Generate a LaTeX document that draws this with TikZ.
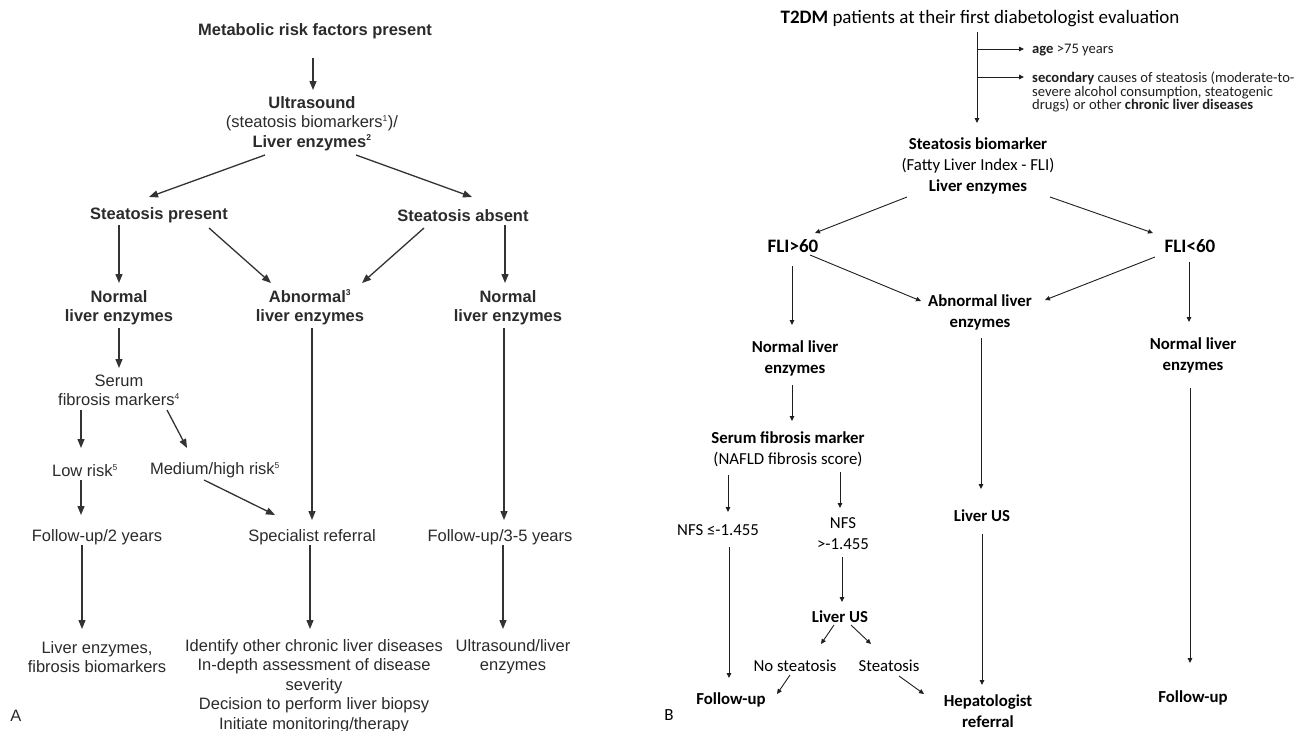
\documentclass[tikz,border=0pt]{standalone}
\usepackage{fontspec}
\setmainfont{Liberation Sans}
\newfontfamily\calfont{Carlito}
\usetikzlibrary{arrows.meta,calc}
\definecolor{ltext}{HTML}{2B2B2B}
\definecolor{lline}{HTML}{333333}
\definecolor{rline}{HTML}{1E1E1E}
\newcommand\supmark[1]{\textsuperscript{\fontsize{8.5}{8.5}\selectfont #1}}

\tikzset{
  lt/.style={inner sep=0pt, align=center, text=ltext,
    font=\fontsize{16.5}{19.4}\selectfont},
  ltb/.style={lt, font=\fontsize{16.5}{19.4}\selectfont\bfseries},
  rt/.style={inner sep=0pt, align=center, text=black,
    font=\calfont\fontsize{16.8}{21}\selectfont},
  rtb/.style={rt, font=\calfont\fontsize{16.8}{21}\selectfont\bfseries},
  rbig/.style={rt, font=\calfont\fontsize{19}{23}\selectfont},
  rsmall/.style={inner sep=0pt, align=left, text=black!88, anchor=west,
    font=\calfont\fontsize{14.6}{13.6}\selectfont},
  larr/.style={draw=lline, line width=1.3pt, -{Triangle[length=9pt,width=7pt]}},
  rarr/.style={draw=rline, line width=0.9pt, -{Triangle[length=5pt,width=4.5pt]}}
}

\begin{document}
\begin{tikzpicture}[x=1pt,y=-1pt]
\useasboundingbox (0,0) rectangle (1299,731);
\fill[white] (0,0) rectangle (1299,731);

% ---------------- panel A ----------------
\node[ltb] (L1) at (315,31.5) {Metabolic risk factors present};
\node[lt]  (L2) at (312,123.5) {\textbf{Ultrasound}\\(steatosis biomarkers\supmark{1})/\\\textbf{Liver enzymes\supmark{2}}};
\node[ltb] (L3) at (159,215.5) {Steatosis present};
\node[ltb] (L4) at (463,215.5) {Steatosis absent};
\node[ltb] (L5) at (119,307.5) {Normal\\liver enzymes};
\node[ltb] (L6) at (310,307.5) {Abnormal\supmark{3}\\liver enzymes};
\node[ltb] (L7) at (508,307.5) {Normal\\liver enzymes};
\node[lt]  (L8) at (119,390.5) {Serum\\fibrosis markers\supmark{4}};
\node[lt]  (L9) at (85,470.5) {Low risk\supmark{5}};
\node[lt]  (L10) at (215,470.5) {Medium/high risk\supmark{5}};
\node[lt]  (L11) at (97,537.5) {Follow-up/2 years};
\node[lt]  (L12) at (312,537.5) {Specialist referral};
\node[lt]  (L13) at (500,537.5) {Follow-up/3-5 years};
\node[lt]  (L14) at (97,657) {Liver enzymes,\\fibrosis biomarkers};
\node[lt]  (L15) at (314,686) {Identify other chronic liver diseases\\In-depth assessment of disease\\severity\\Decision to perform liver biopsy\\Initiate monitoring/therapy};
\node[lt]  (L16) at (513,657) {Ultrasound/liver\\enzymes};
\node[lt]  (LA) at (16,715.5) {A};

\draw[larr] ($(L1)+(-2,26.5)$) -- ($(L2)+(1,-33.5)$);
\draw[larr] ($(L2)+(-47,31.5)$) -- ($(L3)+(-10,-18.5)$);
\draw[larr] ($(L2)+(44,31.5)$) -- ($(L4)+(9,-18.5)$);
\draw[larr] ($(L3)+(-40,9.5)$) -- ($(L5)+(0,-24.5)$);
\draw[larr] ($(L3)+(50,12.5)$) -- ($(L6)+(-39,-24.5)$);
\draw[larr] ($(L4)+(-39,12.5)$) -- ($(L6)+(52,-24.5)$);
\draw[larr] ($(L4)+(42,9.5)$) -- ($(L7)+(-3,-24.5)$);
\draw[larr] ($(L5)+(0,20.5)$) -- ($(L8)+(0,-22.5)$);
\draw[larr] ($(L6)+(2,20.5)$) -- ($(L12)+(0,-17.5)$);
\draw[larr] ($(L7)+(-4,20.5)$) -- ($(L13)+(4,-17.5)$);
\draw[larr] ($(L8)+(-38,19.5)$) -- ($(L9)+(-4,-22.5)$);
\draw[larr] ($(L8)+(48,19.5)$) -- ($(L10)+(-28,-22.5)$);
\draw[larr] ($(L9)+(-4,9.5)$) -- ($(L11)+(-16,-22.5)$);
\draw[larr] ($(L10)+(-11,9.5)$) -- ($(L12)+(-37,-22.5)$);
\draw[larr] ($(L11)+(-15,7.5)$) -- ($(L14)+(-15,-28)$);
\draw[larr] ($(L12)+(-2,7.5)$) -- ($(L15)+(-4,-57)$);
\draw[larr] ($(L13)+(3,7.5)$) -- ($(L16)+(-10,-28)$);

% ---------------- panel B ----------------
\node[rbig] (R1) at (980,18.5) {\textbf{T2DM} patients at their first diabetologist evaluation};
\node[rsmall] (Rage) at (1032,50.5) {\textbf{age} >75 years};
\node[rsmall] (Rsec) at (1032,92) {\textbf{secondary} causes of steatosis (moderate-to-\\severe alcohol consumption, steatogenic\\drugs) or other \textbf{chronic liver diseases}};
\node[rt]  (R2) at (978,166) {\textbf{Steatosis biomarker}\\(Fatty Liver Index - FLI)\\\textbf{Liver enzymes}};
\node[rbig,font=\calfont\fontsize{19}{23}\selectfont\bfseries] (R3) at (793,246.5) {FLI>60};
\node[rbig,font=\calfont\fontsize{19}{23}\selectfont\bfseries] (R4) at (1190,246.5) {FLI<60};
\node[rtb] (R5) at (980,312.5) {Abnormal liver\\enzymes};
\node[rtb] (R6) at (795,358.5) {Normal liver\\enzymes};
\node[rtb] (R7) at (1193,355) {Normal liver\\enzymes};
\node[rt]  (R8) at (788,449.5) {\textbf{Serum fibrosis marker}\\(NAFLD fibrosis score)};
\node[rt]  (R9) at (718,530.5) {NFS ≤-1.455};
\node[rt]  (R10) at (843,533.5) {NFS\\>-1.455};
\node[rtb] (R11) at (982,515.5) {Liver US};
\node[rtb] (R12) at (840,616.5) {Liver US};
\node[rt]  (R13) at (795,665.5) {No steatosis};
\node[rt]  (R14) at (889,665.5) {Steatosis};
\node[rtb] (R15) at (731,699.5) {Follow-up};
\node[rtb] (R16) at (988,711) {Hepatologist\\referral};
\node[rtb] (R17) at (1193,697.5) {Follow-up};
\node[rt,font=\calfont\fontsize{17}{20}\selectfont] (RB) at (669,715.5) {B};

% trunk with the two exclusion branches
\draw[rarr] ($(R1)+(-3,13.5)$) -- ($(R2)+(-1,-43)$);
\coordinate (j1) at ($(R1)+(-3,30.5)$);
\coordinate (j2) at ($(R1)+(-3,58.5)$);
\draw[rarr] (j1) -- ($(Rage.west)+(-8,-1.5)$);
\draw[rarr] (j2) -- ($(Rsec.west)+(-8,-15)$);

\draw[rarr] ($(R2)+(-71,31)$) -- ($(R3)+(22,-13.5)$);
\draw[rarr] ($(R2)+(72,31)$) -- ($(R4)+(-37,-13.5)$);
\draw[rarr] ($(R3)+(-1,19.5)$) -- ($(R6)+(-3,-33.5)$);
\draw[rarr] ($(R3)+(17,8.5)$) -- ($(R5)+(-59,-11.5)$);
\draw[rarr] ($(R4)+(-35,10.5)$) -- ($(R5)+(65,-12.5)$);
\draw[rarr] ($(R4)+(-1,15.5)$) -- ($(R7)+(-4,-33)$);
\draw[rarr] ($(R6)+(-3,26.5)$) -- ($(R8)+(4,-28.5)$);
\draw[rarr] ($(R5)+(1,25.5)$) -- ($(R11)+(-1,-26.5)$);
\draw[rarr] ($(R7)+(-3,33)$) -- ($(R17)+(-3,-34.5)$);
\draw[rarr] ($(R8)+(-60,25.5)$) -- ($(R9)+(10,-18.5)$);
\draw[rarr] ($(R8)+(52,22.5)$) -- ($(R10)+(-3,-25.5)$);
\draw[rarr] ($(R9)+(11,16.5)$) -- ($(R15)+(-2,-21.5)$);
\draw[rarr] ($(R10)+(-1,23.5)$) -- ($(R12)+(2,-14.5)$);
\draw[rarr] ($(R11)+(0,18.5)$) -- ($(R16)+(-6,-26)$);
\draw[rarr] ($(R12)+(-6,8.5)$) -- ($(R13)+(26,-21.5)$);
\draw[rarr] ($(R12)+(11,8.5)$) -- ($(R14)+(-18,-21.5)$);
\draw[rarr] ($(R13)+(-5,9.5)$) -- ($(R15)+(46,-5.5)$);
\draw[rarr] ($(R14)+(10,10.5)$) -- ($(R16)+(-64,-17)$);
\end{tikzpicture}
\end{document}
